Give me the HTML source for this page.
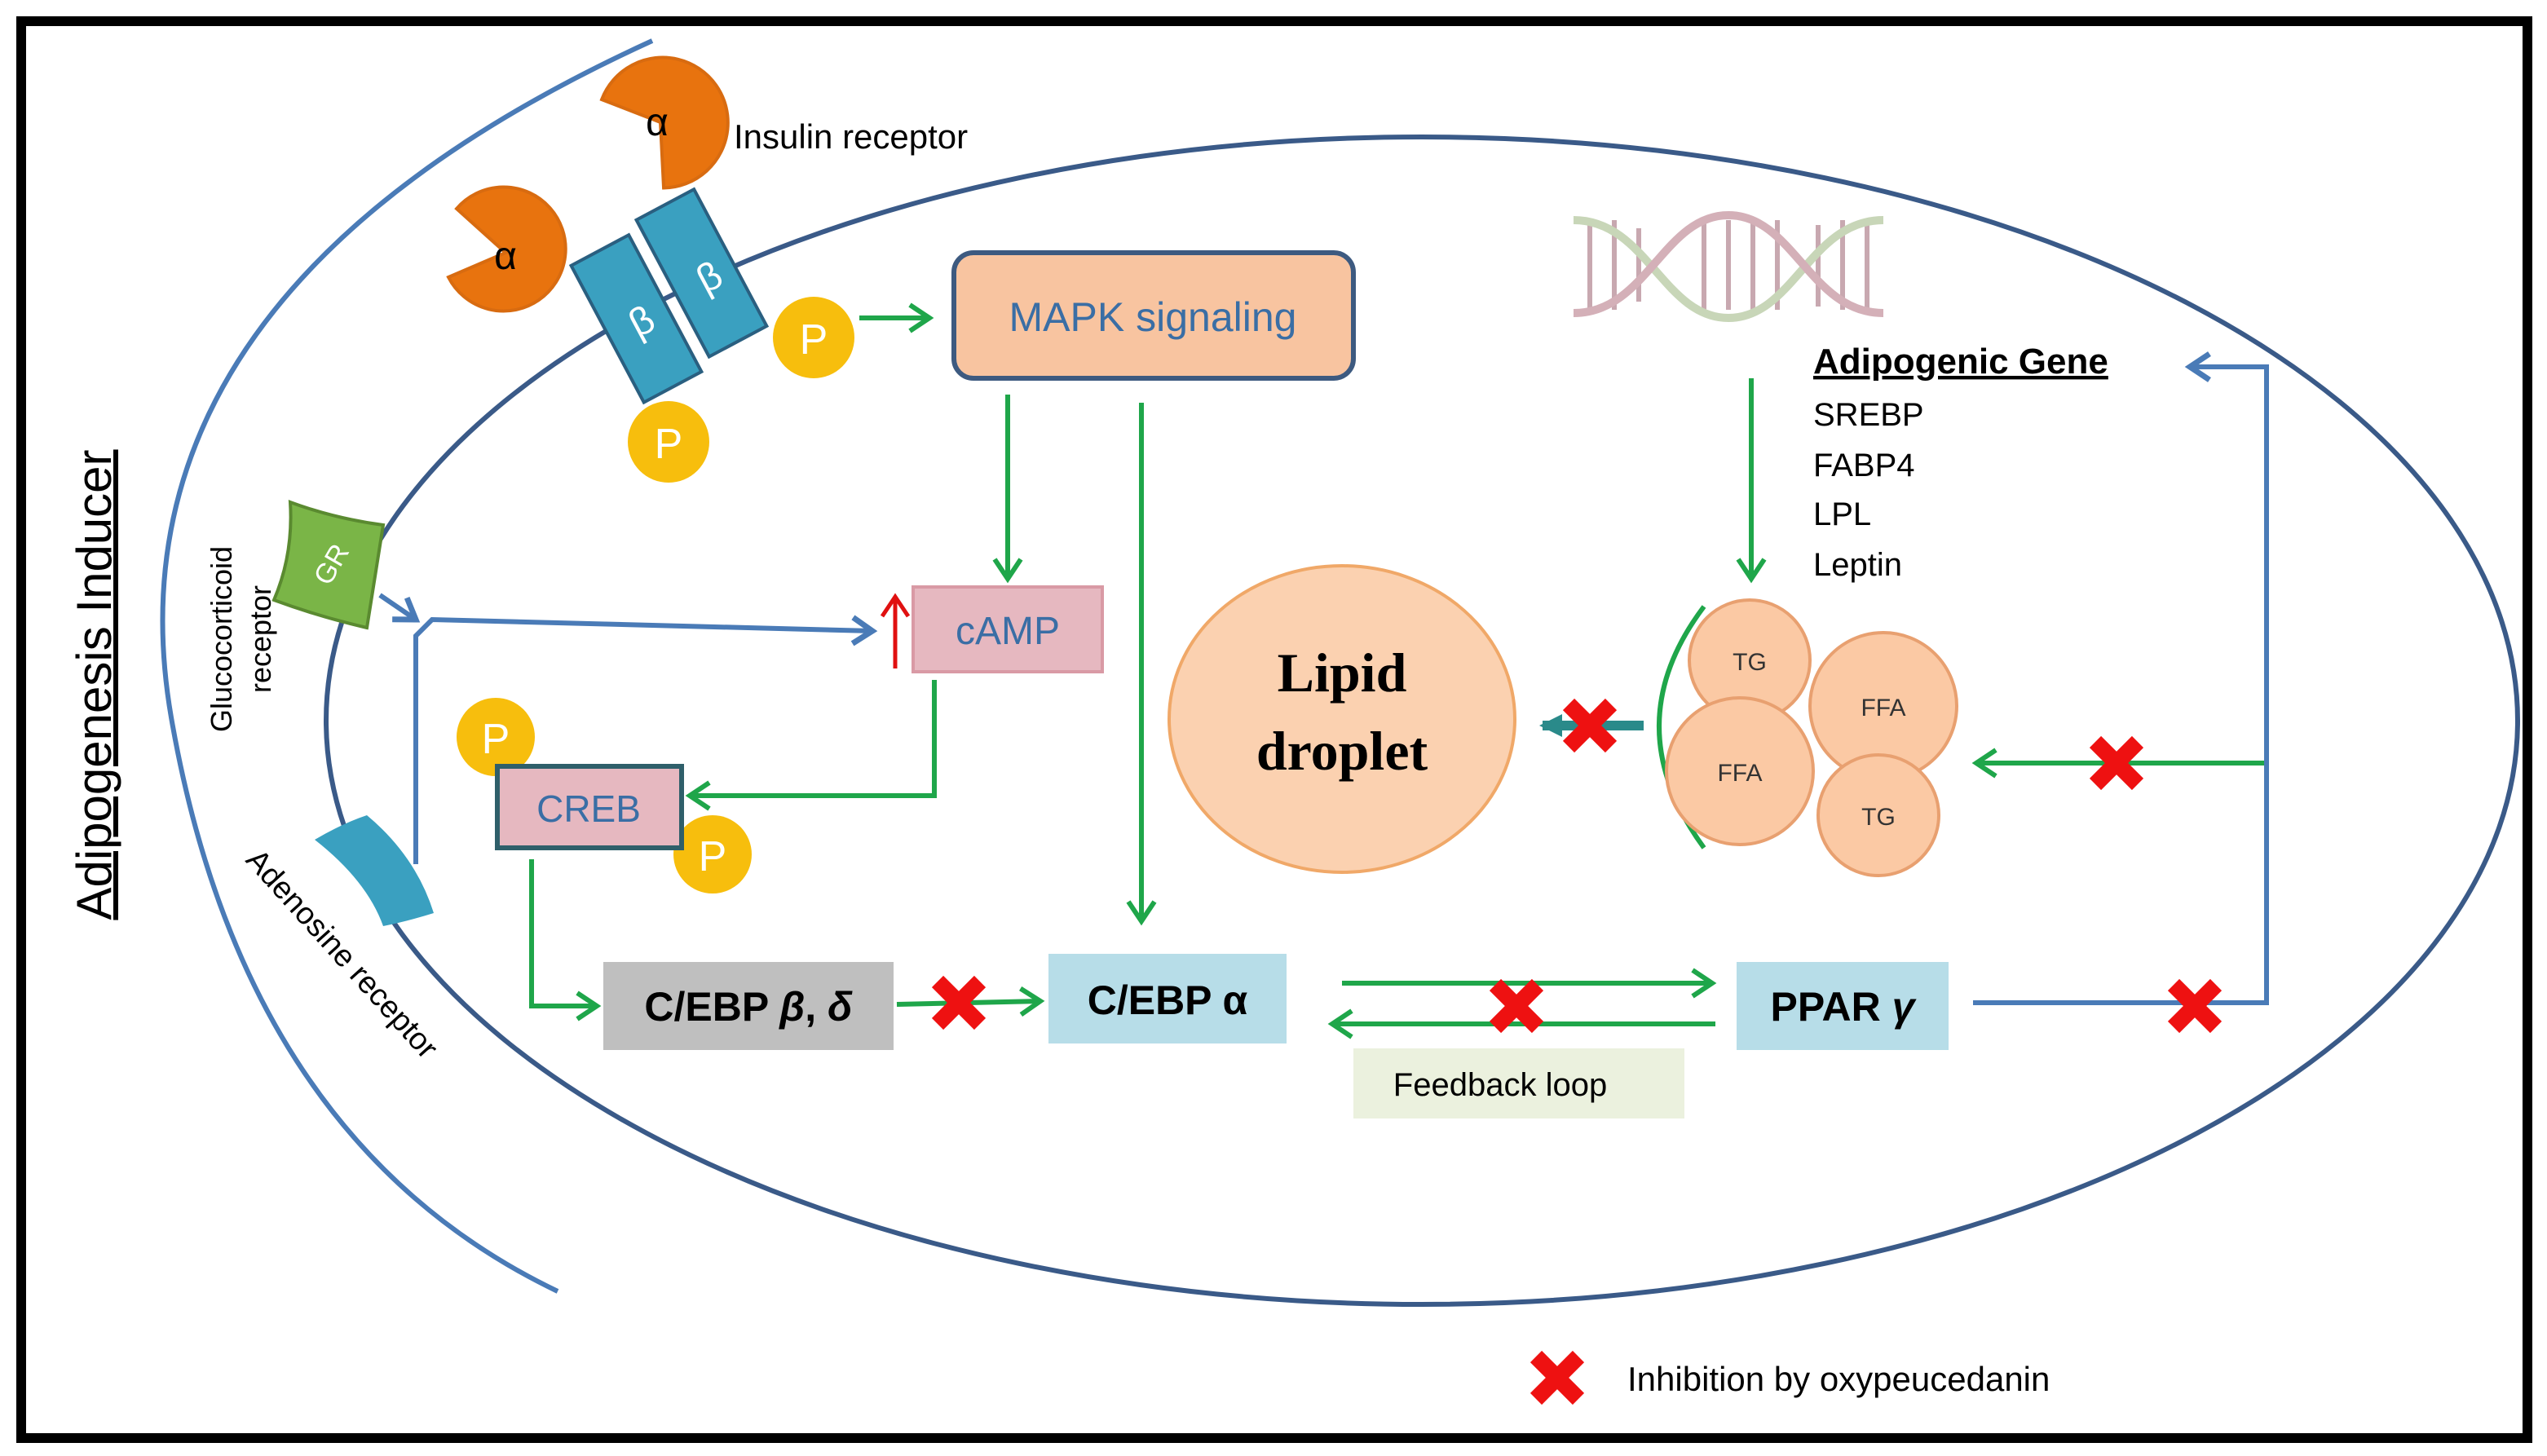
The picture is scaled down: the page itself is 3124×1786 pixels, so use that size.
<!DOCTYPE html>
<html><head><meta charset="utf-8"><style>html,body{margin:0;padding:0;background:#fff}svg{display:block}</style></head>
<body>
<svg width="3124" height="1786" viewBox="0 0 1562 893" xmlns="http://www.w3.org/2000/svg" font-family="Liberation Sans, sans-serif">
<defs>
<marker id="g" viewBox="0 0 10 10" refX="8" refY="5" markerWidth="10" markerHeight="10" orient="auto" markerUnits="userSpaceOnUse" style="overflow:visible"><path d="M-4,-3 L8,5 L-4,13" fill="none" stroke="#1fa64a" stroke-width="3"/></marker>
<marker id="b" viewBox="0 0 10 10" refX="8" refY="5" markerWidth="10" markerHeight="10" orient="auto" markerUnits="userSpaceOnUse" style="overflow:visible"><path d="M-4,-3 L8,5 L-4,13" fill="none" stroke="#4a7bb7" stroke-width="3.5"/></marker>
<marker id="t" viewBox="0 0 10 10" refX="8" refY="5" markerWidth="10" markerHeight="10" orient="auto" markerUnits="userSpaceOnUse" style="overflow:visible"><path d="M10,5 L-4,-2 L-4,12 Z" fill="#2a8a8a"/></marker>
<g id="x"><path d="M-13,-13 L13,13 M13,-13 L-13,13" stroke="#ee1111" stroke-width="10"/></g>
</defs>
<rect x="0" y="0" width="1562" height="893" fill="#fff"/>
<rect x="13" y="13" width="1537" height="869" fill="none" stroke="#000" stroke-width="6"/>
<path d="M400,25 Q60,180 105,440 Q150,700 342,792" fill="none" stroke="#4a7bb7" stroke-width="3"/>
<ellipse cx="872" cy="442" rx="672" ry="358" fill="none" stroke="#3a5a88" stroke-width="3"/>
<text transform="translate(68,420) rotate(-90)" text-anchor="middle" font-size="30" fill="#000" text-decoration="underline">Adipogenesis Inducer</text>
<g stroke="#d86b10" stroke-width="2" fill="#e8730e">
<path d="M405,75 L372,55 A40,40 0 1 1 400,115 Z" transform="rotate(-10 405 75)"/>
<path d="M310,155 L280,128 A38,38 0 1 1 275,170 Z"/>
</g>
<text x="403" y="83" font-size="24" text-anchor="middle">α</text>
<text x="310" y="165" font-size="24" text-anchor="middle">α</text>
<g fill="#3aa0c0" stroke="#2a5f80" stroke-width="2">
<rect x="370" y="148" width="40" height="95" transform="rotate(-28 390 195)"/>
<rect x="410" y="120" width="40" height="95" transform="rotate(-28 430 167)"/>
</g>
<text x="394" y="205" font-size="24" fill="#fff" text-anchor="middle" transform="rotate(-28 394 198)">β</text>
<text x="435" y="178" font-size="24" fill="#fff" text-anchor="middle" transform="rotate(-28 435 170)">β</text>
<g fill="#f7be0d"><circle cx="499" cy="207" r="25"/><circle cx="410" cy="271" r="25"/><circle cx="304" cy="452" r="24"/><circle cx="437" cy="524" r="24"/></g>
<g fill="#fff" font-size="26" text-anchor="middle"><text x="499" y="217">P</text><text x="410" y="281">P</text><text x="304" y="462">P</text><text x="437" y="534">P</text></g>
<text x="450" y="91" font-size="21">Insulin receptor</text>
<g stroke="#1fa64a" stroke-width="3" fill="none" marker-end="url(#g)">
<path d="M527,195 L570,195"/>
<path d="M618,242 L618,355"/>
<path d="M700,247 L700,565"/>
<path d="M573,417 L573,488 L423,488"/>
<path d="M326,527 L326,617 L366,617"/>
<path d="M550,616 L638,614"/>
<path d="M823,603 L1050,603"/>
<path d="M1052,628 L817,628"/>
<path d="M1074,232 L1074,355"/>
<path d="M1390,468 L1212,468"/>
</g>
<rect x="585" y="155" width="245" height="77" rx="12" fill="#f8c4a0" stroke="#3d5a80" stroke-width="3"/>
<text x="707" y="203" font-size="25" fill="#3a6ea5" text-anchor="middle">MAPK signaling</text>
<rect x="560" y="360" width="116" height="52" fill="#e6b8c0" stroke="#d99aa5" stroke-width="2"/>
<text x="618" y="395" font-size="24" fill="#3a6ea5" text-anchor="middle">cAMP</text>
<path d="M549,410 L549,368 M541,378 L549,366 L557,378" stroke="#e01010" stroke-width="2.5" fill="none"/>
<g stroke="#4a7bb7" stroke-width="3" fill="none">
<path d="M233,365 L255,380" marker-end="url(#b)"/>
<path d="M255,530 L255,390 L265,380 L535,387" marker-end="url(#b)"/>
</g>
<path d="M178,308 Q205,318 235,322 L225,385 Q195,378 168,368 Q180,340 178,308 Z" fill="#7ab547" stroke="#5a8a30" stroke-width="2"/>
<text x="203" y="352" font-size="17" fill="#fff" text-anchor="middle" transform="rotate(-60 203 346)">GR</text>
<text transform="translate(142,392) rotate(-90)" font-size="18" text-anchor="middle">Glucocorticoid</text>
<text transform="translate(166,392) rotate(-90)" font-size="18" text-anchor="middle">receptor</text>
<path d="M193,515 Q210,505 225,500 Q255,525 266,560 Q250,565 235,568 Q225,540 193,515 Z" fill="#3aa0c0"/>
<text transform="translate(150,528) rotate(48)" font-size="19">Adenosine receptor</text>
<rect x="305" y="470" width="113" height="50" fill="#e6b8c0" stroke="#2f5f6a" stroke-width="3"/>
<text x="361" y="504" font-size="23" fill="#3a6ea5" text-anchor="middle">CREB</text>
<rect x="370" y="590" width="178" height="54" fill="#bfbfbf"/>
<text x="459" y="626" font-size="25" font-weight="bold" text-anchor="middle">C/EBP <tspan font-style="italic">β</tspan>, <tspan font-style="italic">δ</tspan></text>
<rect x="643" y="585" width="146" height="55" fill="#b7dde8"/>
<text x="716" y="622" font-size="25" font-weight="bold" text-anchor="middle">C/EBP α</text>
<rect x="830" y="643" width="203" height="43" fill="#ebf1de"/>
<text x="920" y="672" font-size="20" text-anchor="middle">Feedback loop</text>
<rect x="1065" y="590" width="130" height="54" fill="#b7dde8"/>
<text x="1130" y="626" font-size="25" font-weight="bold" text-anchor="middle">PPAR <tspan font-style="italic">γ</tspan></text>
<path d="M1210,615 L1390,615 L1390,225 L1343,225" stroke="#4a7bb7" stroke-width="3" fill="none" marker-end="url(#b)"/>
<g fill="none" stroke-width="5">
<g stroke="#c8a8b0" stroke-width="3">
<path d="M975,135 V190 M990,135 V190 M1005,140 V185 M1045,135 V190 M1060,135 V190 M1075,135 V190 M1090,135 V190 M1115,138 V188 M1130,135 V190 M1145,135 V190"/>
</g>
<path d="M965,135 C1010,135 1020,195 1060,195 C1100,195 1110,135 1155,135" stroke="#c8d6b8"/>
<path d="M965,192 C1010,192 1020,132 1060,132 C1100,132 1110,192 1155,192" stroke="#d4b0b8"/>
</g>
<text x="1112" y="229" font-size="22" font-weight="bold" text-decoration="underline">Adipogenic Gene</text>
<g font-size="20"><text x="1112" y="261">SREBP</text><text x="1112" y="292">FABP4</text><text x="1112" y="322">LPL</text><text x="1112" y="353">Leptin</text></g>
<ellipse cx="823" cy="441" rx="106" ry="94" fill="#fbd1b0" stroke="#f0a868" stroke-width="2"/>
<text x="823" y="424" font-size="34" font-weight="bold" font-family="Liberation Serif, serif" text-anchor="middle">Lipid</text>
<text x="823" y="472" font-size="34" font-weight="bold" font-family="Liberation Serif, serif" text-anchor="middle">droplet</text>
<path d="M1008,445 L946,445" stroke="#2a8a8a" stroke-width="6" marker-end="url(#t)"/>
<path d="M1045,372 Q990,445 1045,520" fill="none" stroke="#1fa64a" stroke-width="3"/>
<g fill="#fbc9a4" stroke="#e8a070" stroke-width="2">
<circle cx="1073" cy="405" r="37"/><circle cx="1155" cy="433" r="45"/><circle cx="1067" cy="473" r="45"/><circle cx="1152" cy="500" r="37"/>
</g>
<g font-size="15" text-anchor="middle" fill="#333"><text x="1073" y="411">TG</text><text x="1155" y="439">FFA</text><text x="1067" y="479">FFA</text><text x="1152" y="506">TG</text></g>
<use href="#x" x="975" y="445"/>
<use href="#x" x="588" y="615"/>
<use href="#x" x="930" y="617"/>
<use href="#x" x="1346" y="617"/>
<use href="#x" x="1298" y="468"/>
<use href="#x" x="955" y="845"/>
<text x="998" y="853" font-size="21">Inhibition by oxypeucedanin</text>
</svg>
</body></html>
